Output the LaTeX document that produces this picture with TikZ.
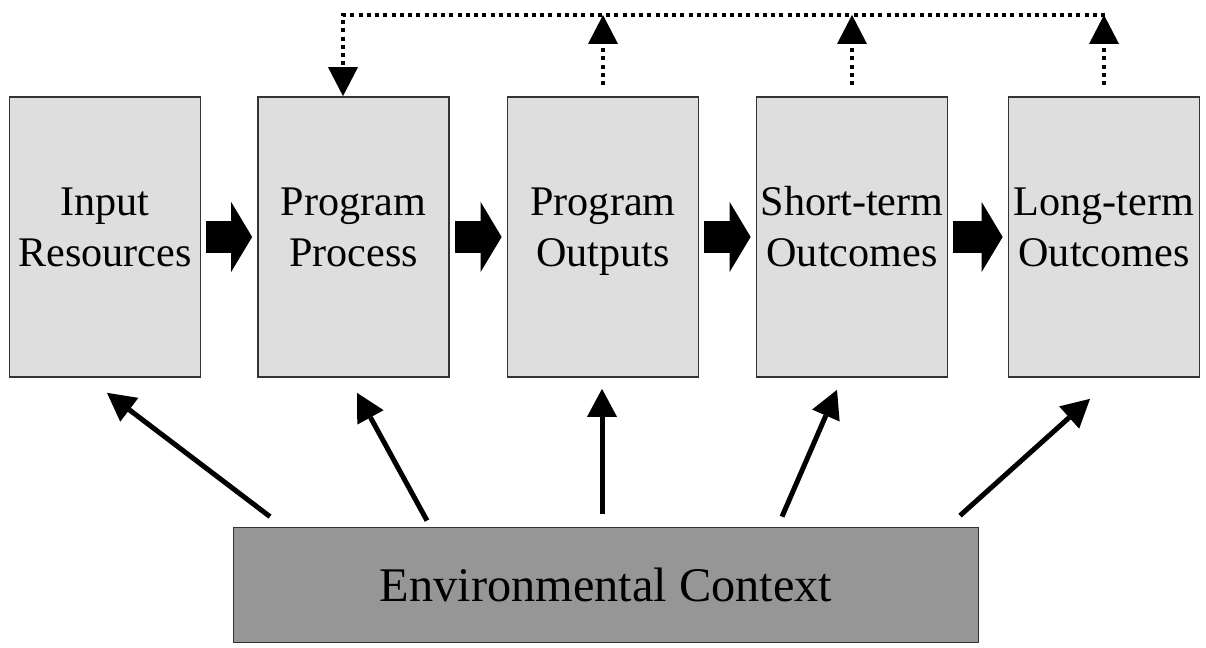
\documentclass[tikz,border=0pt]{standalone}
\usepackage{fontspec}
\setmainfont{Liberation Serif}
\usetikzlibrary{arrows.meta}

\tikzset{
  stage/.style={draw=black!80, line width=1pt, fill=black!13,
    minimum width=3.82cm, minimum height=5.6cm, inner sep=0pt,
    label={[align=center, font=\fontsize{24}{28.5}\selectfont, yshift=0.12cm]center:\strut#1\strut}},
  context/.style={draw=black!80, line width=1pt, fill=black!41,
    minimum width=14.9cm, minimum height=2.3cm,
    font=\fontsize{27.5}{33}\selectfont},
  flow/.style={line width=0.64cm, shorten <=0.1cm, shorten >=0.1cm,
    -{Triangle[length=0.42cm, width=1.4cm, line width=0pt]}},
  effect/.style={line width=0.1cm,
    -{Triangle[length=0.56cm, width=0.6cm, line width=0pt]}},
  feedback/.style={line width=0.08cm, dash pattern=on 0.08cm off 0.085cm,
    -{Triangle[length=0.58cm, width=0.6cm, line width=0pt]}}
}

\begin{document}
\begin{tikzpicture}[x=0.02cm, y=0.02cm]
  \useasboundingbox (0,0) rectangle (1206,648);

  % the five stages
  \node[stage={Input\\Resources}] (b1) at (105,411) {};
  \node[stage={Program\\Process}] (b2) at (353.5,411) {};
  \node[stage={Program\\Outputs}] (b3) at (603,411) {};
  \node[stage={Short-term\\Outcomes}] (b4) at (852,411) {};
  \node[stage={Long-term\\Outcomes}] (b5) at (1104,411) {};

  \node[context] (env) at (606,63) {Environmental Context};

  % flow between stages
  \draw[flow] (b1.east) -- (b2.west);
  \draw[flow] (b2.east) -- (b3.west);
  \draw[flow] (b3.east) -- (b4.west);
  \draw[flow] (b4.east) -- (b5.west);

  % feedback loop
  \coordinate (fbL) at (343,633);
  \coordinate (fbR) at (1105,633);
  \draw[feedback] (fbR) -- (fbL) -- (fbL |- b2.north);
  \draw[feedback] ([yshift=0.22cm]b3.north) -- (b3.north |- fbL);
  \draw[feedback] ([yshift=0.22cm]b4.north) -- (b4.north |- fbL);
  \draw[feedback] ([yshift=0.22cm]b5.north) -- (b5.north |- fbL);

  % context acts on every stage
  \draw[effect] ([shift={(-336,10)}]env.north) -- ([shift={(2,-15)}]b1.south);
  \draw[effect] ([shift={(-179,6)}]env.north) -- ([shift={(3.5,-15)}]b2.south);
  \draw[effect] ([shift={(-4,13)}]env.north) -- ([shift={(-1,-11)}]b3.south);
  \draw[effect] ([shift={(176,10)}]env.north) -- ([shift={(-15,-12)}]b4.south);
  \draw[effect] ([shift={(354,11)}]env.north) -- ([shift={(-14,-21)}]b5.south);
\end{tikzpicture}
\end{document}
